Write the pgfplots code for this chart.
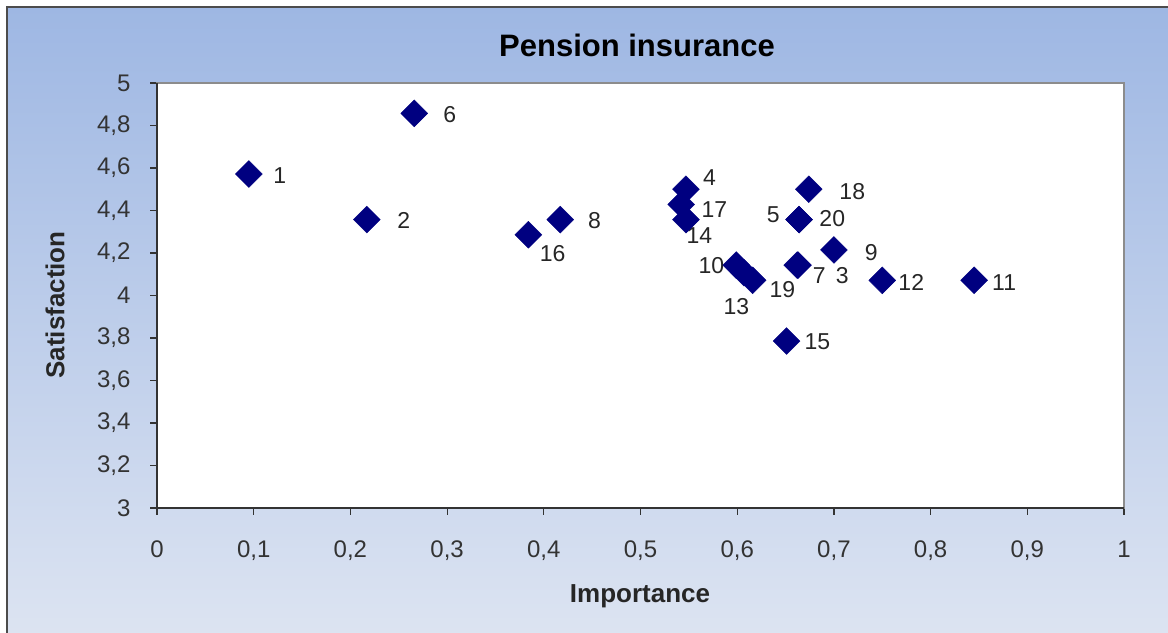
\documentclass[border=0pt]{standalone}
\usepackage{pgfplots}
\pgfplotsset{compat=1.18}
\usepackage{fontspec}
\setmainfont{Liberation Sans}

\definecolor{bgtop}{RGB}{158,183,227}
\definecolor{bgbot}{RGB}{222,229,242}
\definecolor{marknavy}{RGB}{0,0,128}

% Importance vs. satisfaction for the 20 pension insurance items
\pgfplotstableread{
x      y
0.095  4.5714
0.217  4.3571
0.663  4.1429
0.547  4.5000
0.664  4.3571
0.266  4.8571
0.662  4.1429
0.417  4.3571
0.700  4.2143
0.599  4.1429
0.845  4.0714
0.750  4.0714
0.607  4.1071
0.547  4.3571
0.651  3.7857
0.384  4.2857
0.542  4.4286
0.674  4.5000
0.616  4.0714
0.664  4.3571
}\pointdata

\begin{document}
\begin{tikzpicture}[x=1bp,y=1bp]
\clip (0,0) rectangle (1168,633);
\fill[white] (0,0) rectangle (1168,633);
\shade[top color=bgtop,bottom color=bgbot] (7,-20) rectangle (1190,626);
\draw[black!70,line width=1.5bp] (7,-20) -- (7,626) -- (1190,626);

\begin{axis}[
  at={(157bp,125bp)}, anchor=south west,
  scale only axis, width=967bp, height=425bp,
  xmin=0, xmax=1, ymin=3, ymax=5,
  xtick={0,0.1,0.2,0.3,0.4,0.5,0.6,0.7,0.8,0.9,1},
  ytick={3,3.2,3.4,3.6,3.8,4,4.2,4.4,4.6,4.8,5},
  xtick pos=bottom, ytick pos=left,
  tick align=outside,
  major tick length=7bp,
  tick style={black!80, line width=1.2bp},
  axis line style={draw=gray!90, line width=1.5bp},
  axis background/.style={fill=white},
  /pgf/number format/assume math mode=true,
  /pgf/number format/use comma,
  ticklabel style={font=\fontsize{24bp}{28bp}\selectfont, text=black!80},
  xticklabel style={yshift=-22bp},
  yticklabel style={xshift=-16bp},
  clip=false,
]
\addplot[only marks, mark=square*, mark size=9.5bp,
         mark options={rotate=45, fill=marknavy, draw=marknavy}]
  table[x=x, y=y] {\pointdata};

\draw[black!80, line width=1.5bp]
  (rel axis cs:0,1) -- (rel axis cs:0,0) -- (rel axis cs:1,0);

\tikzset{lbl/.style={font=\fontsize{23bp}{27bp}\selectfont, text=black!85, inner sep=0pt}}
\node[lbl] at (axis cs:0.127,4.562) {1};
\node[lbl] at (axis cs:0.3027,4.849) {6};
\node[lbl] at (axis cs:0.2552,4.351) {2};
\node[lbl] at (axis cs:0.4091,4.195) {16};
\node[lbl] at (axis cs:0.4525,4.351) {8};
\node[lbl] at (axis cs:0.5713,4.553) {4};
\node[lbl] at (axis cs:0.5764,4.402) {17};
\node[lbl] at (axis cs:0.5610,4.280) {14};
\node[lbl] at (axis cs:0.7190,4.487) {18};
\node[lbl] at (axis cs:0.6374,4.379) {5};
\node[lbl] at (axis cs:0.6983,4.360) {20};
\node[lbl] at (axis cs:0.7386,4.200) {9};
\node[lbl] at (axis cs:0.5733,4.139) {10};
\node[lbl] at (axis cs:0.6467,4.026) {19};
\node[lbl] at (axis cs:0.5992,3.946) {13};
\node[lbl] at (axis cs:0.6849,4.096) {7};
\node[lbl] at (axis cs:0.7087,4.096) {3};
\node[lbl] at (axis cs:0.7800,4.059) {12};
\node[lbl] at (axis cs:0.8760,4.059) {11};
\node[lbl] at (axis cs:0.6829,3.781) {15};
\end{axis}

\node[font=\fontsize{31bp}{36bp}\selectfont\bfseries, inner sep=0pt] at (637,588) {Pension insurance};
\node[font=\fontsize{26bp}{30bp}\selectfont\bfseries, inner sep=0pt, text=black!85] at (640,37) {Importance};
\node[font=\fontsize{26bp}{30bp}\selectfont\bfseries, inner sep=0pt, text=black!85, rotate=90] at (55,328) {Satisfaction};
\end{tikzpicture}
\end{document}
